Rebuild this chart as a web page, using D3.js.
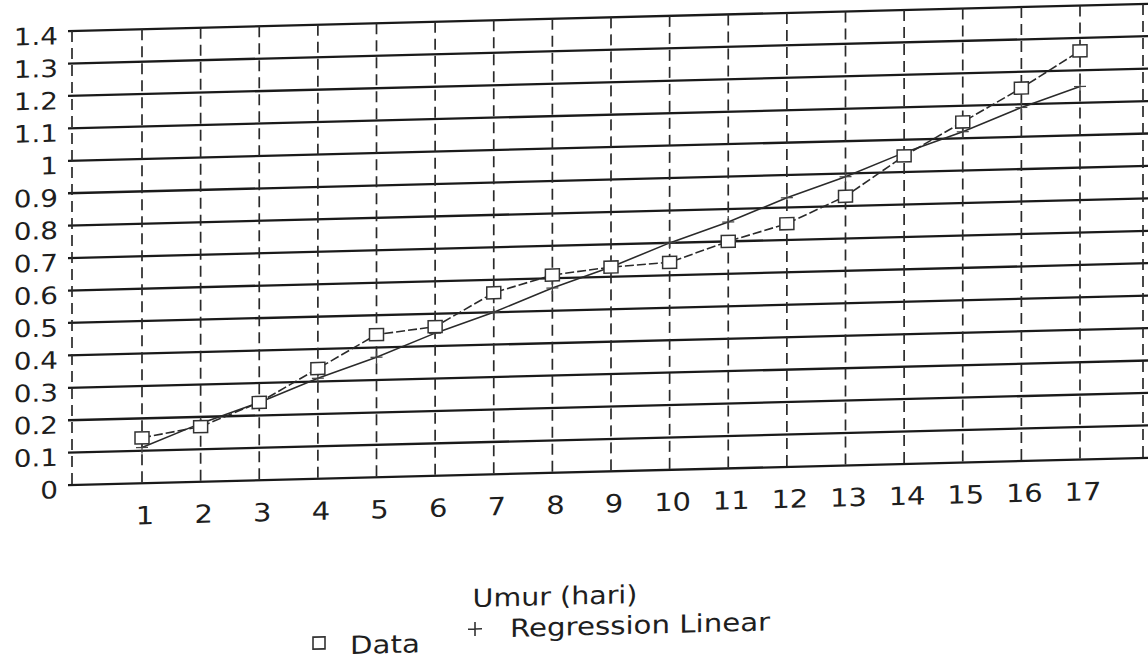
<!DOCTYPE html>
<html><head><meta charset="utf-8">
<script src="https://cdn.jsdelivr.net/npm/d3@7"></script>
<style>
body{margin:0;background:#fff}
text{font-family:"DejaVu Sans",sans-serif;fill:#1e1e1e}
</style>
</head><body>
<svg id="c" width="1148" height="659"></svg>
<script>
// ---- data ----
const days = [1, 2, 3, 4, 5, 6, 7, 8, 9, 10, 11, 12, 13, 14, 15, 16, 17];
const dataValues = [0.14, 0.17, 0.24, 0.34, 0.44, 0.46, 0.56, 0.61, 0.63, 0.64, 0.70, 0.75, 0.83, 0.95, 1.05, 1.15, 1.26];
const regressionValues = [0.11, 0.18, 0.24, 0.31, 0.37, 0.44, 0.50, 0.57, 0.63, 0.70, 0.76, 0.83, 0.89, 0.96, 1.02, 1.09, 1.15];
const yTickValues = [0, 0.1, 0.2, 0.3, 0.4, 0.5, 0.6, 0.7, 0.8, 0.9, 1, 1.1, 1.2, 1.3, 1.4];
const yTickLabels = ["0", "0.1", "0.2", "0.3", "0.4", "0.5", "0.6", "0.7", "0.8", "0.9", "1", "1.1", "1.2", "1.3", "1.4"];
const xTickLabels = ["1", "2", "3", "4", "5", "6", "7", "8", "9", "10", "11", "12", "13", "14", "15", "16", "17"];
const xTitle = "Umur (hari)";
const legendLabels = ["Data", "Regression Linear"];

// ---- layout ----
const left = 72, right = 1143;
const k = 0.0253; // scan tilt
const x = d3.scaleLinear().domain([1, 17]).range([142, 1080]);
const y = d3.scaleLinear().domain([0, 1.4]).range([485, 31]);

const svg = d3.select("#c");
svg.append("rect").attr("width", 1148).attr("height", 659).attr("fill", "#fff");
const skewDeg = -Math.atan(k) * 180 / Math.PI;
const g = svg.append("g")
  .attr("transform", `translate(${left},0) skewY(${skewDeg}) translate(${-left},0)`);

// widen glyphs a little, like the original typeface
function stretch(sel, f) {
  sel.each(function () {
    const w = this.getComputedTextLength();
    d3.select(this).attr("textLength", w * f).attr("lengthAdjust", "spacingAndGlyphs");
  });
}

// horizontal grid lines (solid)
g.append("g").selectAll("line").data(yTickValues).join("line")
  .attr("x1", left - 4).attr("x2", 1170)
  .attr("y1", d => y(d)).attr("y2", d => y(d))
  .attr("stroke", "#1a1a1a").attr("stroke-width", 2.3);

// vertical dashed grid lines
const vx = [left].concat(days.map(d => x(d))).concat([right]);
g.append("g").selectAll("line").data(vx).join("line")
  .attr("x1", d => d).attr("x2", d => d)
  .attr("y1", y(1.4)).attr("y2", y(0))
  .attr("stroke", "#2a2a2a").attr("stroke-width", 1.7)
  .attr("stroke-dasharray", "11,6");

// y tick labels
g.append("g").selectAll("text").data(yTickValues).join("text")
  .attr("x", 58).attr("y", d => y(d) + 6)
  .attr("text-anchor", "end").attr("dominant-baseline", "middle")
  .attr("font-size", 24)
  .text((d, i) => yTickLabels[i])
  .call(stretch, 1.16);

// x tick labels
g.append("g").selectAll("text").data(days).join("text")
  .attr("x", d => x(d) + 3).attr("y", y(0) + 34)
  .attr("text-anchor", "middle").attr("dominant-baseline", "middle")
  .attr("font-size", 25)
  .text((d, i) => xTickLabels[i])
  .call(stretch, 1.16);

// series
const dataPts = days.map((d, i) => ({day: d, v: dataValues[i]}));
const regPts = days.map((d, i) => ({day: d, v: regressionValues[i]}));
const line = d3.line().x(d => x(d.day)).y(d => y(d.v));

g.append("path").datum(regPts).attr("d", line)
  .attr("fill", "none").attr("stroke", "#2a2a2a").attr("stroke-width", 1.6);
g.append("path").datum(dataPts).attr("d", line)
  .attr("fill", "none").attr("stroke", "#2a2a2a").attr("stroke-width", 1.6)
  .attr("stroke-dasharray", "9,3");

g.append("g").selectAll("path").data(regPts).join("path")
  .attr("transform", d => `translate(${x(d.day)},${y(d.v)})`)
  .attr("d", "M-6,0H6M0,-6V6")
  .attr("stroke", "#444").attr("stroke-width", 1.3).attr("fill", "none");

g.append("g").selectAll("rect").data(dataPts).join("rect")
  .attr("x", d => x(d.day) - 7).attr("y", d => y(d.v) - 6)
  .attr("width", 14).attr("height", 12)
  .attr("fill", "#fff").attr("stroke", "#333").attr("stroke-width", 1.5);

// axis title
const skewV = (u, yy) => yy + (u - left) * k;
g.append("text").attr("x", 555).attr("y", skewV(555, 605))
  .attr("text-anchor", "middle").attr("font-size", 25)
  .text(xTitle).call(stretch, 1.14);

// legend
g.append("rect").attr("x", 313).attr("y", skewV(319, 637))
  .attr("width", 12).attr("height", 12)
  .attr("fill", "#fff").attr("stroke", "#333").attr("stroke-width", 1.6);
g.append("text").attr("x", 350).attr("y", skewV(350, 654))
  .attr("font-size", 25).text(legendLabels[0]).call(stretch, 1.17);
g.append("path")
  .attr("transform", `translate(475,${skewV(475, 629)})`)
  .attr("d", "M-7,0H7M0,-7V7").attr("stroke", "#333").attr("stroke-width", 1.6);
g.append("text").attr("x", 510).attr("y", skewV(510, 637))
  .attr("font-size", 25).text(legendLabels[1]).call(stretch, 1.17);
</script>
</body></html>
